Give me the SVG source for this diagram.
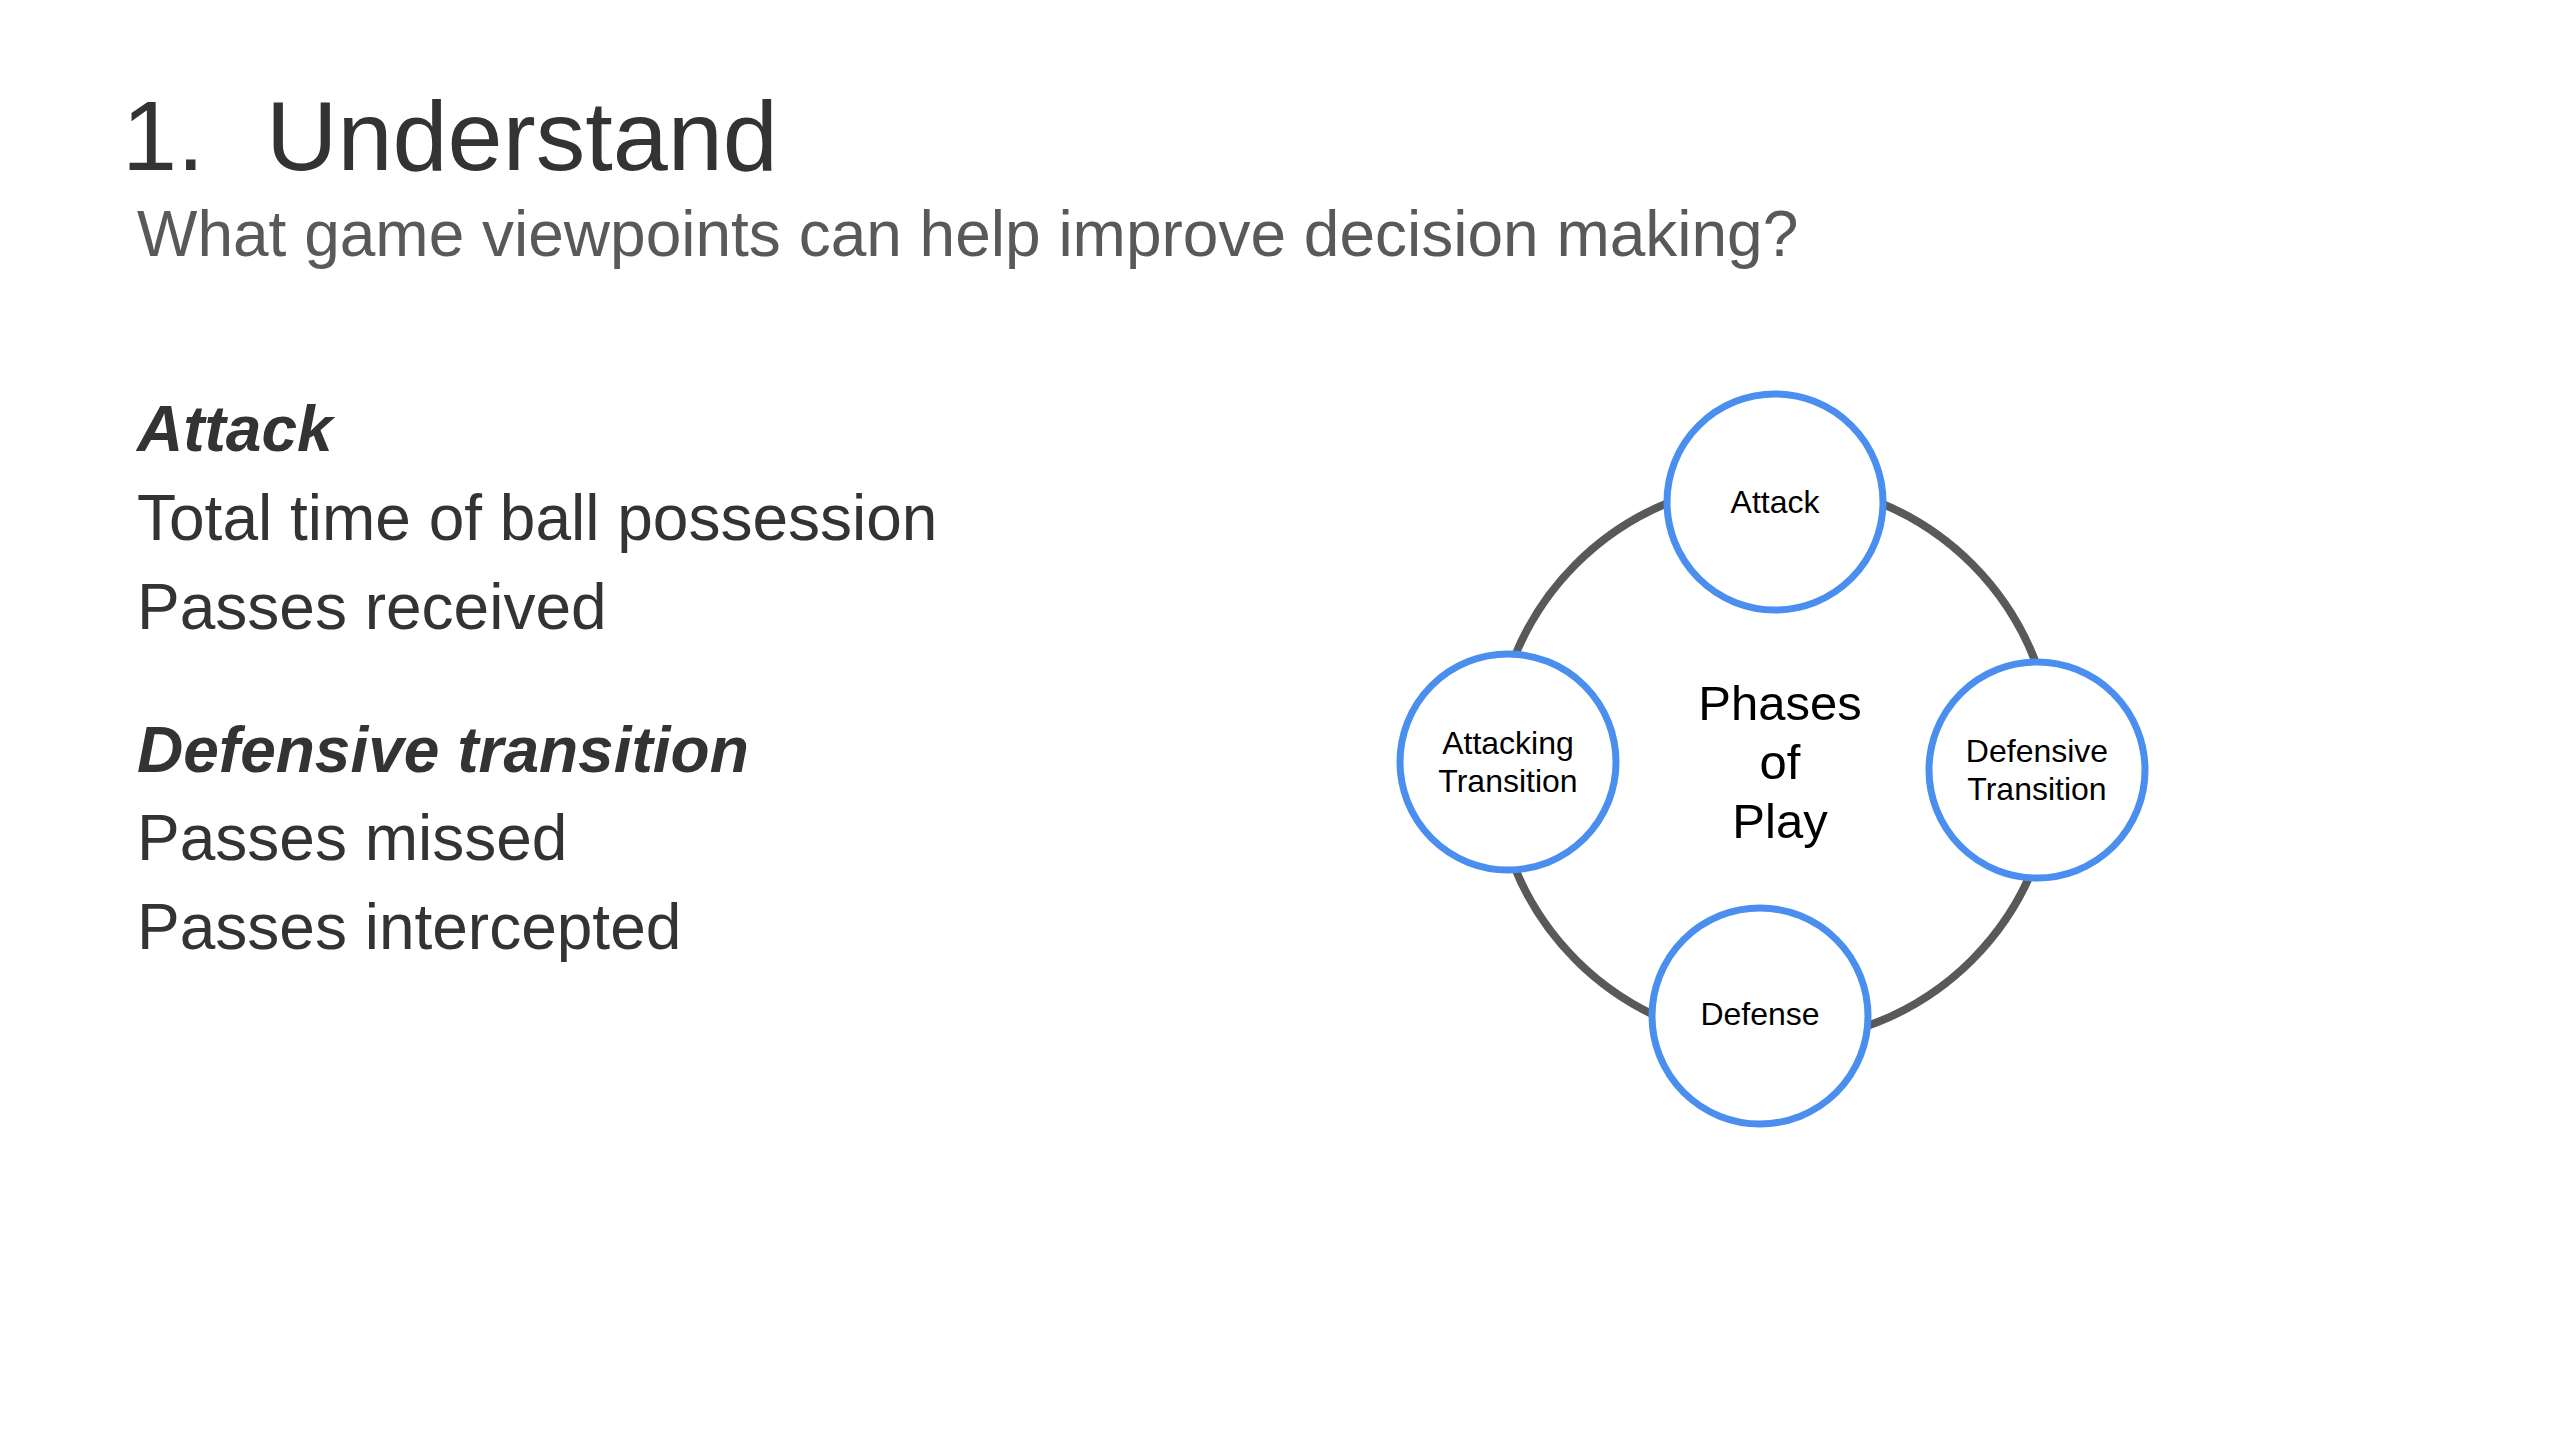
<svg xmlns="http://www.w3.org/2000/svg" width="2560" height="1440" viewBox="0 0 2560 1440">
  <style>
    text { font-family: "Liberation Sans", Arial, sans-serif; }
    .title { font-size: 99px; fill: #333333; }
    .subtitle { font-size: 64px; fill: #595959; }
    .body { font-size: 64px; fill: #333333; }
    .head { font-size: 64px; fill: #333333; font-weight: bold; font-style: italic; }
    .ring { fill: none; stroke: #595959; stroke-width: 8; }
    .node circle { fill: #ffffff; stroke: #4a8ef0; stroke-width: 7; }
    .node text { font-size: 32px; fill: #000000; text-anchor: middle; }
    .hub { font-size: 49px; fill: #000000; text-anchor: middle; }
  </style>
  <rect width="2560" height="1440" fill="#ffffff"/>

  <!-- heading -->
  <text class="title" x="122" y="170">1.</text>
  <text class="title" x="266" y="170">Understand</text>
  <text class="subtitle" x="137" y="256">What game viewpoints can help improve decision making?</text>

  <!-- metric lists -->
  <text class="head" x="137" y="451">Attack</text>
  <text class="body" x="137" y="540">Total time of ball possession</text>
  <text class="body" x="137" y="629">Passes received</text>
  <text class="head" x="137" y="772">Defensive transition</text>
  <text class="body" x="137" y="860">Passes missed</text>
  <text class="body" x="137" y="949">Passes intercepted</text>

  <!-- cycle ring -->
  <g id="connectors">
    <circle class="ring" cx="1774" cy="762" r="280"/>
  </g>

  <text class="hub" x="1780" y="720">Phases</text>
  <text class="hub" x="1780" y="779">of</text>
  <text class="hub" x="1780" y="838">Play</text>

  <g id="node-attack" class="node">
    <circle cx="1775" cy="502" r="108"/>
    <text x="1775" y="513">Attack</text>
  </g>
  <g id="node-attacking-transition" class="node">
    <circle cx="1508" cy="762" r="108"/>
    <text x="1508" y="754">Attacking</text>
    <text x="1508" y="792">Transition</text>
  </g>
  <g id="node-defensive-transition" class="node">
    <circle cx="2037" cy="770" r="108"/>
    <text x="2037" y="762">Defensive</text>
    <text x="2037" y="800">Transition</text>
  </g>
  <g id="node-defense" class="node">
    <circle cx="1760" cy="1016" r="108"/>
    <text x="1760" y="1025">Defense</text>
  </g>
</svg>
